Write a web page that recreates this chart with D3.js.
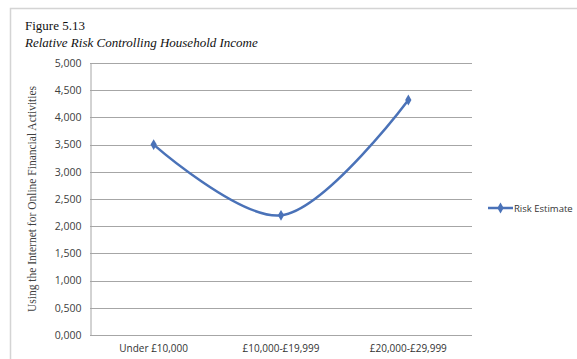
<!DOCTYPE html>
<html>
<head>
<meta charset="utf-8">
<script src="https://cdn.jsdelivr.net/npm/d3@7"></script>
<style>
  html, body { margin: 0; padding: 0; background: #fff; }
  svg { display: block; }
</style>
</head>
<body>
<svg id="chart" width="577" height="359"></svg>
<script>
// Income bands and relative risk estimates
const categories = ["Under £10,000", "£10,000-£19,999", "£20,000-£29,999"];
const riskEstimate = [3.5, 2.2, 4.32];
const yTicks = [0, 0.5, 1, 1.5, 2, 2.5, 3, 3.5, 4, 4.5, 5];
const seriesName = "Risk Estimate";

const svg = d3.select("#chart");
const W = 577, H = 359;
const plot = { left: 90, right: 472, top: 63, bottom: 335 };
const lineColor = "#4a72b8";

// Outer chart frame
svg.append("rect")
  .attr("x", 10.5).attr("y", 8.5)
  .attr("width", W).attr("height", H)
  .attr("fill", "#fff").attr("stroke", "#d4d4d4").attr("stroke-width", 1.5);

// Titles
svg.append("text")
  .attr("x", 25).attr("y", 30)
  .attr("font-family", "'Liberation Serif', 'Times New Roman', serif")
  .attr("font-size", 13).attr("fill", "#111")
  .text("Figure 5.13");
svg.append("text")
  .attr("x", 25).attr("y", 47)
  .attr("font-family", "'Liberation Serif', 'Times New Roman', serif")
  .attr("font-style", "italic")
  .attr("font-size", 13).attr("fill", "#111")
  .text("Relative Risk Controlling Household Income");

const x = d3.scaleBand().domain(categories).range([plot.left, plot.right]);
const y = d3.scaleLinear().domain([0, 5]).range([plot.bottom, plot.top]);

const fmt = v => d3.format(".3f")(v).replace(".", ",");

// Horizontal gridlines
svg.append("g")
  .selectAll("line")
  .data(yTicks)
  .join("line")
  .attr("x1", plot.left).attr("x2", plot.right)
  .attr("y1", d => Math.round(y(d)) + 0.5).attr("y2", d => Math.round(y(d)) + 0.5)
  .attr("stroke", "#a6a6a6").attr("stroke-width", 1);

// Y axis
const yAxis = svg.append("g")
  .attr("transform", `translate(${plot.left + 0.5},0)`)
  .call(d3.axisLeft(y).tickValues(yTicks).tickFormat(fmt).tickSize(0).tickPadding(9));
yAxis.select(".domain").attr("stroke", "#a6a6a6");
yAxis.selectAll("text")
  .attr("font-family", "'Open Sans', 'Liberation Sans', sans-serif")
  .attr("font-size", 10.5).attr("fill", "#404040");

// X axis labels
const xAxis = svg.append("g")
  .attr("transform", `translate(0,${plot.bottom})`)
  .call(d3.axisBottom(x).tickSize(0).tickPadding(10));
xAxis.select(".domain").remove();
xAxis.selectAll("text")
  .attr("font-family", "'Open Sans', 'Liberation Sans', sans-serif")
  .attr("font-size", 10).attr("fill", "#333");

// Y axis title
svg.append("text")
  .attr("transform", `translate(36,${(plot.top + plot.bottom) / 2}) rotate(-90)`)
  .attr("text-anchor", "middle")
  .attr("font-family", "'Liberation Serif', 'Times New Roman', serif")
  .attr("font-size", 11.5).attr("fill", "#404040")
  .text("Using the Internet for Online Financial Activities");

// Smoothed series line
const pts = categories.map((c, i) => [x(c) + x.bandwidth() / 2, y(riskEstimate[i])]);
svg.append("path")
  .datum(pts)
  .attr("d", d3.line().curve(d3.curveCatmullRom.alpha(0.5)))
  .attr("fill", "none").attr("stroke", lineColor).attr("stroke-width", 2.5)
  .attr("stroke-linecap", "round");

const diamond = d3.symbol().type(d3.symbolDiamond).size(34);
svg.append("g")
  .selectAll("path")
  .data(pts)
  .join("path")
  .attr("transform", d => `translate(${d[0]},${d[1]})`)
  .attr("d", diamond)
  .attr("fill", lineColor);

// Legend
const lg = svg.append("g").attr("transform", "translate(488,208)");
lg.append("line").attr("x1", 0).attr("x2", 25).attr("y1", 0).attr("y2", 0)
  .attr("stroke", lineColor).attr("stroke-width", 2.5);
lg.append("path").attr("transform", "translate(12.5,0)").attr("d", diamond).attr("fill", lineColor);
lg.append("text").attr("x", 26).attr("y", 3.5)
  .attr("font-family", "'Open Sans', 'Liberation Sans', sans-serif")
  .attr("font-size", 9.5).attr("fill", "#333")
  .text(seriesName);
</script>
</body>
</html>
